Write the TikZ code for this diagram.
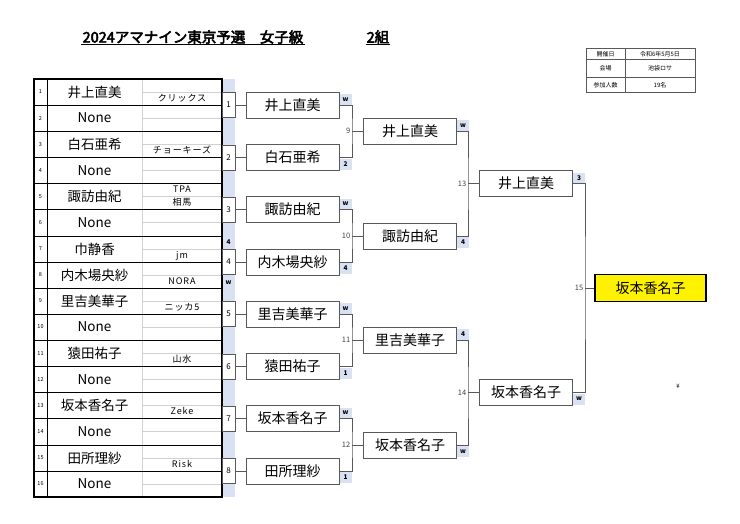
\documentclass[tikz,border=0pt]{standalone}
\usepackage{fontspec}
\setmainfont{Noto Sans CJK JP}
\newfontfamily\titlefont{Noto Sans CJK JP}[FakeBold=3.5]
\newfontfamily\clubfont{Noto Sans CJK JP}[LetterSpace=10]
\definecolor{bandblue}{RGB}{217,225,242}
\definecolor{linegray}{RGB}{89,89,89}

\begin{document}
\begin{tikzpicture}[
    x=1pt, y=-1pt,
    titletext/.style={
        font=\titlefont\fontsize{14.5}{14.5}\selectfont,
        inner sep=1pt,
    },
    entry/.style={
        font=\fontsize{13.5}{13.5}\selectfont, inner sep=0pt,
    },
    seedno/.style={
        font=\fontsize{5.5}{5.5}\selectfont, inner sep=0pt,
    },
    club/.style={
        font=\clubfont\fontsize{9}{9}\selectfont, inner sep=0pt,
        text height=6.5pt, text depth=1.5pt,
    },
    matchno/.style={
        rectangle, draw=linegray, fill=white, line width=0.8pt,
        minimum width=13pt, minimum height=25pt, inner sep=0pt,
        font=\fontsize{8}{8}\selectfont,
    },
    player/.style={
        rectangle, draw=linegray, fill=white, line width=1pt,
        minimum width=93pt, minimum height=26pt, inner sep=0pt,
        font=\fontsize{14}{14}\selectfont,
    },
    champ/.style={
        rectangle, draw=black, fill=yellow, line width=1.5pt,
        minimum width=111pt, minimum height=27pt, inner sep=0pt,
        font=\fontsize{14}{14}\selectfont,
    },
    score/.style={
        rectangle, fill=bandblue, minimum width=12pt, minimum height=11pt,
        inner sep=0pt, font=\bfseries\fontsize{6.5}{6.5}\selectfont,
    },
    gameno/.style={
        font=\fontsize{7.5}{7.5}\selectfont, text=black!75,
        inner sep=1.5pt, anchor=east,
    },
    bracket/.style={draw=linegray, line width=0.8pt},
    lightline/.style={draw=black!18, line width=0.6pt},
    info/.style={font=\fontsize{6}{6}\selectfont, inner sep=0pt},
]

\useasboundingbox (0,0) rectangle (740,523);

% --- Title ---
\node[titletext] (title) at (193,37) {2024アマナイン東京予選\quad 女子級};
\draw[line width=1pt] (title.south west) -- (title.south east);
\node[titletext] (group) at (378,37) {2組};
\draw[line width=1pt] (group.south west) -- (group.south east);

% --- Info table ---
\draw[linegray, line width=0.6pt] (586,48) rectangle (695,92.5);
\draw[linegray, line width=0.6pt] (625,48) -- (625,92.5)
    (586,59.5) -- (695,59.5) (586,77) -- (695,77);
\node[info] (date) at (605.5,53.75) {開催日};
\node[info] (dateval) at (660,53.75) {令和6年5月5日};
\node[info] (venue) at (605.5,68.25) {会場};
\node[info] (venueval) at (660,68.25) {池袋ロサ};
\node[info] (count) at (605.5,84.75) {参加人数};
\node[info] (countval) at (660,84.75) {19名};

% --- Entry table ---
\fill[bandblue] (222,79) rectangle (235,497);
\draw[lightline] (142,79) -- (142,497);
\draw[lightline] (142,92) -- (222,92) (142,118) -- (222,118)
    (142,144.25) -- (222,144.25) (142,170.5) -- (222,170.5)
    (142,196.5) -- (222,196.5) (142,222.75) -- (222,222.75)
    (142,249) -- (222,249) (142,275) -- (222,275)
    (142,301) -- (222,301) (142,327) -- (222,327)
    (142,353.25) -- (222,353.25) (142,379.5) -- (222,379.5)
    (142,405.5) -- (222,405.5) (142,431.75) -- (222,431.75)
    (142,458) -- (222,458) (142,484) -- (222,484);
\draw[line width=0.8pt] (34,105) -- (222,105) (34,157.5) -- (222,157.5)
    (34,209.5) -- (222,209.5) (34,262) -- (222,262)
    (34,314) -- (222,314) (34,366.5) -- (222,366.5)
    (34,418.5) -- (222,418.5) (34,471) -- (222,471);
\draw[line width=1pt] (34,131) -- (222,131) (34,183.5) -- (222,183.5)
    (34,236) -- (222,236) (34,288) -- (222,288)
    (34,340) -- (222,340) (34,392.5) -- (222,392.5)
    (34,445) -- (222,445);
\draw[line width=0.8pt] (47,79) -- (47,497);
\draw[line width=1.2pt] (34,79) rectangle (222,497);

% seed numbers
\node[seedno] (s1) at (40.5,92) {1};
\node[seedno] (s2) at (40.5,118) {2};
\node[seedno] (s3) at (40.5,144.25) {3};
\node[seedno] (s4) at (40.5,170.5) {4};
\node[seedno] (s5) at (40.5,196.5) {5};
\node[seedno] (s6) at (40.5,222.75) {6};
\node[seedno] (s7) at (40.5,249) {7};
\node[seedno] (s8) at (40.5,275) {8};
\node[seedno] (s9) at (40.5,301) {9};
\node[seedno] (s10) at (40.5,327) {10};
\node[seedno] (s11) at (40.5,353.25) {11};
\node[seedno] (s12) at (40.5,379.5) {12};
\node[seedno] (s13) at (40.5,405.5) {13};
\node[seedno] (s14) at (40.5,431.75) {14};
\node[seedno] (s15) at (40.5,458) {15};
\node[seedno] (s16) at (40.5,484) {16};

% entrants
\node[entry] (p1) at (94.5,92) {井上直美};
\node[entry] (p2) at (94.5,118) {None};
\node[entry] (p3) at (94.5,144.25) {白石亜希};
\node[entry] (p4) at (94.5,170.5) {None};
\node[entry] (p5) at (94.5,196.5) {諏訪由紀};
\node[entry] (p6) at (94.5,222.75) {None};
\node[entry] (p7) at (94.5,249) {巾静香};
\node[entry] (p8) at (94.5,275) {内木場央紗};
\node[entry] (p9) at (94.5,301) {里吉美華子};
\node[entry] (p10) at (94.5,327) {None};
\node[entry] (p11) at (94.5,353.25) {猿田祐子};
\node[entry] (p12) at (94.5,379.5) {None};
\node[entry] (p13) at (94.5,405.5) {坂本香名子};
\node[entry] (p14) at (94.5,431.75) {None};
\node[entry] (p15) at (94.5,458) {田所理紗};
\node[entry] (p16) at (94.5,484) {None};

% clubs
\node[club] (c1) at (182,98.5) {クリックス};
\node[club] (c3) at (182,150.9) {チョーキーズ};
\node[club] (c5a) at (182,190) {TPA};
\node[club] (c5b) at (182,203) {相馬};
\node[club] (c7) at (182,255.5) {jm};
\node[club] (c8) at (182,281.5) {NORA};
\node[club] (c9) at (182,307.5) {ニッカ5};
\node[club] (c11) at (182,359.9) {山水};
\node[club] (c13) at (182,412) {Zeke};
\node[club] (c15) at (182,464.5) {Risk};

% --- First round ---
\node[matchno] (g1) at (228.5,105) {1};
\node[matchno] (g2) at (228.5,157.5) {2};
\node[matchno] (g3) at (228.5,209.5) {3};
\node[matchno] (g4) at (228.5,262) {4};
\node[matchno] (g5) at (228.5,314) {5};
\node[matchno] (g6) at (228.5,366.5) {6};
\node[matchno] (g7) at (228.5,418.5) {7};
\node[matchno] (g8) at (228.5,471) {8};
\node[score, fill=none] (t4a) at (228.5,242) {4};
\node[score, fill=none] (t4b) at (228.5,283) {w};

\node[player] (w1) at (292.5,105) {井上直美};
\node[player] (w2) at (292.5,157.5) {白石亜希};
\node[player] (w3) at (292.5,209.5) {諏訪由紀};
\node[player] (w4) at (292.5,262) {内木場央紗};
\node[player] (w5) at (292.5,314) {里吉美華子};
\node[player] (w6) at (292.5,366.5) {猿田祐子};
\node[player] (w7) at (292.5,418.5) {坂本香名子};
\node[player] (w8) at (292.5,471) {田所理紗};
\draw[bracket] (g1.east) -- (w1.west);
\draw[bracket] (g2.east) -- (w2.west);
\draw[bracket] (g3.east) -- (w3.west);
\draw[bracket] (g4.east) -- (w4.west);
\draw[bracket] (g5.east) -- (w5.west);
\draw[bracket] (g6.east) -- (w6.west);
\draw[bracket] (g7.east) -- (w7.west);
\draw[bracket] (g8.east) -- (w8.west);

% --- Second round ---
\node[score] (r1) at (345.5,99.5) {w};
\node[score] (r2) at (345.5,164) {2};
\node[score] (r3) at (345.5,204) {w};
\node[score] (r4) at (345.5,268.5) {4};
\node[score] (r5) at (345.5,308.5) {w};
\node[score] (r6) at (345.5,373) {1};
\node[score] (r7) at (345.5,413) {w};
\node[score] (r8) at (345.5,477.5) {1};

\coordinate (j9) at (352,131);
\coordinate (j10) at (352,236);
\coordinate (j11) at (352,340);
\coordinate (j12) at (352,445);
\node[player] (w9) at (410,131) {井上直美};
\node[player] (w10) at (410,236) {諏訪由紀};
\node[player] (w11) at (410,340) {里吉美華子};
\node[player] (w12) at (410,445) {坂本香名子};
\draw[bracket] (w1.east) -| (j9) |- (w2.east);
\draw[bracket] (j9) -- (w9.west);
\draw[bracket] (w3.east) -| (j10) |- (w4.east);
\draw[bracket] (j10) -- (w10.west);
\draw[bracket] (w5.east) -| (j11) |- (w6.east);
\draw[bracket] (j11) -- (w11.west);
\draw[bracket] (w7.east) -| (j12) |- (w8.east);
\draw[bracket] (j12) -- (w12.west);
\node[gameno] (n9) at (j9) {9};
\node[gameno] (n10) at (j10) {10};
\node[gameno] (n11) at (j11) {11};
\node[gameno] (n12) at (j12) {12};

% --- Semifinal ---
\node[score] (r9) at (463,125.5) {w};
\node[score] (r10) at (463,242.5) {4};
\node[score] (r11) at (463,334.5) {4};
\node[score] (r12) at (463,451.5) {w};

\coordinate (j13) at (468,183.5);
\coordinate (j14) at (468,392.5);
\node[player] (w13) at (526,183.5) {井上直美};
\node[player] (w14) at (526,392.5) {坂本香名子};
\draw[bracket] (w9.east) -| (j13) |- (w10.east);
\draw[bracket] (j13) -- (w13.west);
\draw[bracket] (w11.east) -| (j14) |- (w12.east);
\draw[bracket] (j14) -- (w14.west);
\node[gameno] (n13) at (j13) {13};
\node[gameno] (n14) at (j14) {14};

% --- Final ---
\node[score] (r13) at (579,178) {3};
\node[score] (r14) at (579,399) {w};

\coordinate (j15) at (585,288);
\node[champ] (w15) at (650.5,288) {坂本香名子};
\draw[bracket] (w13.east) -| (j15) |- (w14.east);
\draw[bracket] (j15) -- (w15.west);
\node[gameno] (n15) at (j15) {15};

\node[info] (yen) at (678,386) {¥};

\end{tikzpicture}
\end{document}
